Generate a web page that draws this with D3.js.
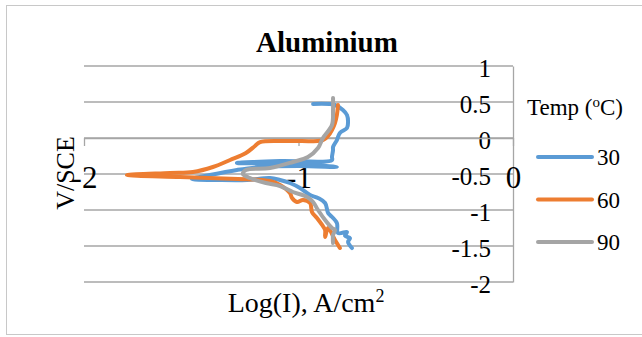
<!DOCTYPE html>
<html>
<head>
<meta charset="utf-8">
<script src="https://cdn.jsdelivr.net/npm/d3@7"></script>
<style>
  body { margin: 0; background: #fff; }
</style>
</head>
<body>
<div id="chart"></div>
<script>
// Tafel curves, Log(I) vs V/SCE
const series = ['30', '60', '90'];
const colors = ['#5b9bd5', '#ed7d31', '#a5a5a5'];

const logI30 = [-0.751, -0.769, -0.760, -0.783, -0.774, -0.816, -0.821, -0.853, -0.862, -0.876, -0.909, -0.946, -0.993, -1.040, -1.086, -1.133, -1.240, -1.366, -1.497, -1.413, -1.287, -1.179, -0.993, -0.821, -0.993, -1.287, -1.086, -0.844, -0.844, -0.839, -0.839, -0.821, -0.807, -0.774, -0.769, -0.774, -0.793, -0.830, -0.932];
const v30 = [-1.528, -1.444, -1.390, -1.360, -1.306, -1.319, -1.181, -1.070, -1.042, -0.903, -0.833, -0.792, -0.694, -0.625, -0.583, -0.556, -0.583, -0.583, -0.569, -0.514, -0.444, -0.403, -0.389, -0.403, -0.361, -0.347, -0.320, -0.306, -0.264, -0.167, -0.125, -0.028, 0.069, 0.139, 0.222, 0.319, 0.389, 0.458, 0.472];

const logI60 = [-0.807, -0.830, -0.862, -0.876, -0.876, -0.890, -0.914, -0.937, -0.946, -0.979, -1.007, -1.030, -1.040, -1.086, -1.133, -1.170, -1.282, -1.552, -1.800, -1.599, -1.492, -1.399, -1.319, -1.245, -1.203, -1.179, -1.040, -0.886, -0.862, -0.844, -0.830, -0.821, -0.816];
const v60 = [-1.528, -1.417, -1.250, -1.375, -1.278, -1.208, -1.111, -1.028, -0.903, -0.861, -0.889, -0.833, -0.764, -0.653, -0.597, -0.583, -0.569, -0.542, -0.514, -0.486, -0.472, -0.403, -0.306, -0.208, -0.111, -0.056, -0.042, -0.028, 0.028, 0.111, 0.208, 0.319, 0.458];

const logI90 = [-0.839, -0.839, -0.830, -0.844, -0.876, -0.909, -0.932, -0.960, -1.026, -1.086, -1.152, -1.226, -1.259, -1.245, -1.133, -1.026, -0.956, -0.909, -0.886, -0.844, -0.839, -0.839];
const v90 = [-1.458, -1.347, -1.278, -1.250, -1.139, -1.000, -0.889, -0.819, -0.750, -0.667, -0.625, -0.556, -0.500, -0.444, -0.417, -0.333, -0.264, -0.139, 0.000, 0.181, 0.389, 0.556];

const yTicks = [1, 0.5, 0, -0.5, -1, -1.5, -2];
const yTickLabels = ['1', '0.5', '0', '-0.5', '-1', '-1.5', '-2'];
const xTicks = [-2, -1, 0];
const xTickLabels = ['-2', '-1', '0'];

const serif = '"Liberation Serif", "Times New Roman", serif';
const W = 642, H = 337;
const svg = d3.select('#chart').append('svg')
  .attr('width', W)
  .attr('height', H);

// chart border
svg.append('rect')
  .attr('x', 6.5).attr('y', 5.5)
  .attr('width', 660).attr('height', 329)
  .attr('fill', '#fff')
  .attr('stroke', '#c8c8c8');

const x = d3.scaleLinear().domain([-2, 0]).range([84, 513]);
const y = d3.scaleLinear().domain([-2, 1]).range([282, 66]);

// gridlines
svg.append('g')
  .selectAll('line')
  .data(yTicks)
  .enter().append('line')
  .attr('x1', x(-2)).attr('x2', x(0))
  .attr('y1', d => y(d)).attr('y2', d => y(d))
  .attr('stroke', '#a6a6a6')
  .attr('stroke-width', 1.3);

// vertical axis sits at Log(I) = 0
const yAxis = svg.append('g')
  .attr('transform', `translate(${x(0)},0)`)
  .call(d3.axisLeft(y).tickValues(yTicks)
    .tickFormat((d, i) => yTickLabels[i])
    .tickSize(0).tickPadding(22));
yAxis.select('.domain').attr('stroke', '#a6a6a6').attr('stroke-width', 1.3);
yAxis.selectAll('text')
  .style('font-family', serif)
  .style('font-size', '25px')
  .attr('fill', '#000')
  .attr('dy', '0.42em');

// horizontal axis crosses at V = 0
const xAxis = svg.append('g')
  .attr('transform', `translate(0,${y(0)})`)
  .call(d3.axisBottom(x).tickValues(xTicks)
    .tickFormat((d, i) => xTickLabels[i])
    .tickSizeInner(8).tickSizeOuter(0).tickPadding(20));
xAxis.select('.domain').attr('stroke', '#a6a6a6').attr('stroke-width', 1.3);
xAxis.selectAll('.tick line').attr('stroke', '#a6a6a6').attr('stroke-width', 1.3);
xAxis.selectAll('text')
  .style('font-family', serif)
  .style('font-size', '31px')
  .attr('fill', '#000');

// curves
const curves = [
  logI30.map((d, i) => [d, v30[i]]),
  logI60.map((d, i) => [d, v60[i]]),
  logI90.map((d, i) => [d, v90[i]])
];

const line = d3.line()
  .x(d => x(d[0]))
  .y(d => y(d[1]))
  .curve(d3.curveCatmullRom.alpha(0.5));

svg.append('g')
  .selectAll('path')
  .data(curves)
  .enter().append('path')
  .attr('d', line)
  .attr('fill', 'none')
  .attr('stroke', (d, i) => colors[i])
  .attr('stroke-width', 4)
  .attr('stroke-linejoin', 'round')
  .attr('stroke-linecap', 'round');

// title
svg.append('text')
  .attr('x', 327).attr('y', 52)
  .attr('text-anchor', 'middle')
  .style('font-family', serif)
  .style('font-size', '29px')
  .style('font-weight', 'bold')
  .text('Aluminium');

// axis titles
svg.append('text')
  .attr('transform', 'translate(74,173) rotate(-90)')
  .attr('text-anchor', 'middle')
  .style('font-family', serif)
  .style('font-size', '26px')
  .text('V/SCE');

const xTitle = svg.append('text')
  .attr('x', 306).attr('y', 312)
  .attr('text-anchor', 'middle')
  .style('font-family', serif)
  .style('font-size', '28px');
xTitle.append('tspan').text('Log(I), A/cm');
xTitle.append('tspan').style('font-size', '18px').attr('dy', -10).text('2');

// legend
const legendTitle = svg.append('text')
  .attr('x', 527).attr('y', 115)
  .style('font-family', serif)
  .style('font-size', '23px');
legendTitle.append('tspan').text('Temp (');
legendTitle.append('tspan').style('font-size', '15px').attr('dy', -8).text('o');
legendTitle.append('tspan').attr('dy', 8).text('C)');

const legend = svg.append('g')
  .selectAll('g')
  .data(series)
  .enter().append('g')
  .attr('transform', (d, i) => `translate(538,${157 + i * 42.5})`);

legend.append('line')
  .attr('x1', 0).attr('x2', 54)
  .attr('stroke', (d, i) => colors[i])
  .attr('stroke-width', 4)
  .attr('stroke-linecap', 'round');

legend.append('text')
  .attr('x', 59).attr('y', 8)
  .style('font-family', serif)
  .style('font-size', '23px')
  .text(d => d);
</script>
</body>
</html>
